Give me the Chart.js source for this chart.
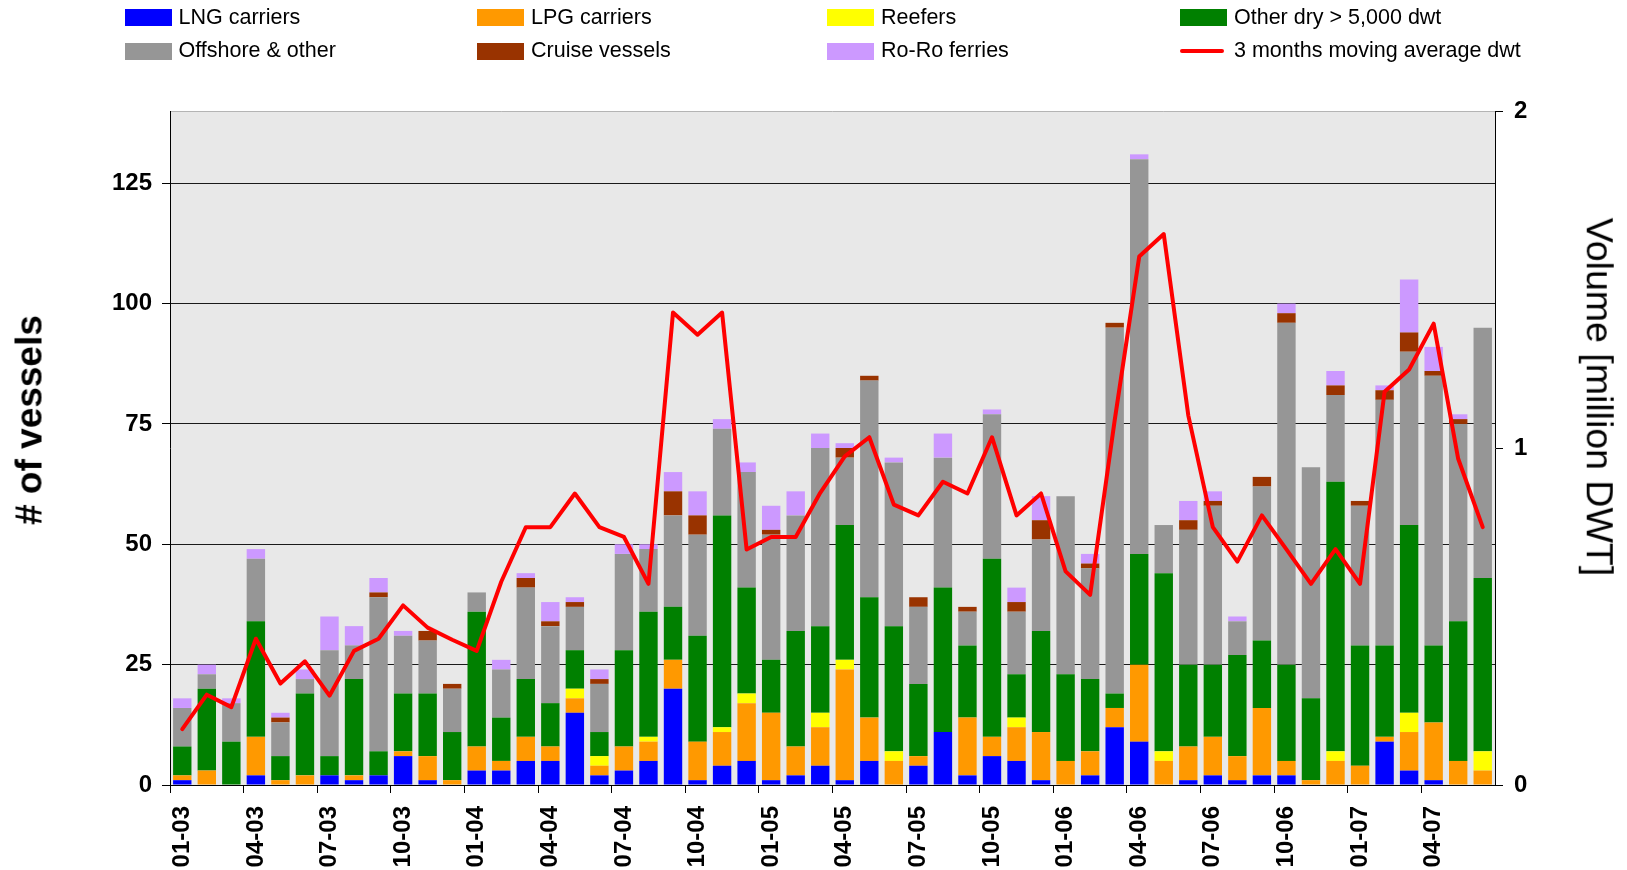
<!DOCTYPE html>
<html>
<head>
<meta charset="utf-8">
<script src="https://cdn.jsdelivr.net/npm/chart.js@4.4.1/dist/chart.umd.min.js"></script>
<style>
  html, body { margin: 0; padding: 0; background: #fff; }
  #wrap { position: relative; width: 1627px; height: 870px; font-family: "Liberation Sans", Arial, sans-serif; }
  #chart { position: absolute; left: 0; top: 0; }
  .leg-text { position: absolute; font-size: 21.5px; line-height: 1; color: #000; white-space: nowrap; transform: translateY(-50%); }
  .leg-box { position: absolute; }
  .axis-title { position: absolute; white-space: nowrap; color: #000; line-height: 1; }
</style>
</head>
<body>
<div id="wrap">
  <canvas id="chart" width="1627" height="870"></canvas>
  <div id="legend"></div>
  <div class="axis-title" style="left:29px; top:420px; font-weight:bold; font-size:37px; transform:translate(-50%,-50%) rotate(-90deg);"># of vessels</div>
  <div class="axis-title" style="left:1599px; top:397px; font-size:37.5px; transform:translate(-50%,-50%) rotate(90deg);">Volume [million DWT]</div>
</div>
<script>
// months shown on the category axis
const months = [
  "01-03","02-03","03-03","04-03","05-03","06-03","07-03","08-03","09-03","10-03","11-03","12-03",
  "01-04","02-04","03-04","04-04","05-04","06-04","07-04","08-04","09-04","10-04","11-04","12-04",
  "01-05","02-05","03-05","04-05","05-05","06-05","07-05","08-05","09-05","10-05","11-05","12-05",
  "01-06","02-06","03-06","04-06","05-06","06-06","07-06","08-06","09-06","10-06","11-06","12-06",
  "01-07","02-07","03-07","04-07","05-07","06-07"
]

// number of vessels per type and month
const lngCarriers = [1,0,0,2,0,0,2,1,2,6, 1,0,3,3,5,5,15,2,3,5, 20,1,4,5,1,2,4,1,5,0, 4,11,2,6,5,1,0,2,12,9, 0,1,2,1,2,2,0,0,0,9, 3,1,0,0]
const lpgCarriers = [1,3,0,8,1,2,0,1,0,1, 5,1,5,2,5,3,3,2,5,4, 6,8,7,12,14,6,8,23,9,5, 2,0,12,4,7,10,5,5,4,16, 5,7,8,5,14,3,1,5,4,1, 8,12,5,3]
const reefers = [0,0,0,0,0,0,0,0,0,0, 0,0,0,0,0,0,2,2,0,1, 0,0,1,2,0,0,3,2,0,2, 0,0,0,0,2,0,0,0,0,0, 2,0,0,0,0,0,0,2,0,0, 4,0,0,4]
const otherDry = [6,17,9,24,5,17,4,20,5,12, 13,10,28,9,12,9,8,5,20,26, 11,22,44,22,11,24,18,28,25,26, 15,30,15,37,9,21,18,15,3,23, 37,17,15,21,14,20,17,56,25,19, 39,16,29,36]
const offshoreOther = [8,3,8,13,7,3,22,7,32,12, 11,9,4,10,19,16,9,10,20,13, 19,21,18,24,26,24,37,14,45,34, 16,27,7,30,13,19,37,23,76,82, 10,28,33,7,32,71,48,18,29,51, 36,56,41,52]
const cruiseVessels = [0,0,0,0,1,0,0,0,1,0, 2,1,0,0,2,1,1,1,0,0, 5,4,0,0,1,0,0,2,1,0, 2,0,1,0,2,4,0,1,1,0, 0,2,1,0,2,2,0,2,1,2, 4,1,1,0]
const roroFerries = [2,2,1,2,1,2,7,4,3,1, 0,0,0,2,1,4,1,2,2,1, 4,5,2,2,5,5,3,1,0,1, 0,5,0,1,3,5,0,2,0,1, 0,4,2,1,0,2,0,3,0,1, 11,5,1,0]

// 3 months moving average, million dwt
const movingAvgDwt = [0.166,0.268,0.231,0.434,0.301,0.367,0.265,0.398,0.434,0.533, 0.467,0.431,0.398,0.603,0.765,0.765,0.865,0.765,0.736,0.597, 1.402,1.336,1.402,0.699,0.736,0.736,0.867,0.975,1.032,0.832, 0.800,0.900,0.865,1.032,0.800,0.865,0.634,0.564,1.082,1.568, 1.635,1.097,0.765,0.663,0.800,0.699,0.597,0.700,0.597,1.167, 1.233,1.369,0.968,0.765]

const vesselTicks = [0, 25, 50, 75, 100, 125]
const dwtTicks = [0, 1, 2]

const FONT = "'Liberation Sans', Arial, sans-serif"

const bars = [
  { label: "LNG carriers", data: lngCarriers, color: "#0000ff" },
  { label: "LPG carriers", data: lpgCarriers, color: "#ff9900" },
  { label: "Reefers", data: reefers, color: "#ffff00" },
  { label: "Other dry > 5,000 dwt", data: otherDry, color: "#008000" },
  { label: "Offshore & other", data: offshoreOther, color: "#969696" },
  { label: "Cruise vessels", data: cruiseVessels, color: "#993300" },
  { label: "Ro-Ro ferries", data: roroFerries, color: "#cc99ff" }
]
const lineLabel = "3 months moving average dwt"

// grey plot area like the spreadsheet original
const plotBg = {
  id: "plotBg",
  beforeDraw(chart) {
    const { ctx, chartArea: a } = chart
    ctx.save()
    ctx.fillStyle = "#e8e8e8"
    ctx.fillRect(a.left, a.top, a.right - a.left, a.bottom - a.top)
    ctx.strokeStyle = "#b4b4b4"
    ctx.lineWidth = 1
    ctx.beginPath()
    ctx.moveTo(a.left, a.top + 0.5)
    ctx.lineTo(a.right, a.top + 0.5)
    ctx.stroke()
    ctx.restore()
  }
}

const tickFont = { family: FONT, size: 24, weight: "bold" }

const datasets = [{
  type: "line",
  label: lineLabel,
  data: movingAvgDwt,
  yAxisID: "y1",
  borderColor: "#ff0000",
  backgroundColor: "#ff0000",
  borderWidth: 4,
  pointRadius: 0,
  tension: 0,
  borderJoinStyle: "round",
  borderCapStyle: "round",
  order: 0
}].concat(bars.map(b => ({
  type: "bar",
  label: b.label,
  data: b.data,
  backgroundColor: b.color,
  borderWidth: 0,
  stack: "vessels",
  yAxisID: "y",
  barPercentage: 0.75,
  categoryPercentage: 1.0,
  order: 1
})))

new Chart(document.getElementById("chart"), {
  data: { labels: months, datasets },
  plugins: [plotBg],
  options: {
    responsive: false,
    animation: false,
    devicePixelRatio: 1,
    events: [],
    layout: { padding: { top: 111, left: 0, right: 0, bottom: 0 } },
    plugins: { legend: { display: false }, tooltip: { enabled: false } },
    scales: {
      x: {
        stacked: true,
        offset: true,
        afterFit: s => { s.height = 85 },
        grid: {
          offset: true,
          drawOnChartArea: false,
          tickLength: 8,
          tickColor: c => (c.index % 3 === 0 ? "#000" : "rgba(0,0,0,0)")
        },
        border: { display: true, color: "#000", width: 1 },
        ticks: {
          autoSkip: false,
          minRotation: 90,
          maxRotation: 90,
          padding: 13,
          color: "#000",
          font: tickFont,
          callback: (v, i) => (i % 3 === 0 ? months[i] : "")
        }
      },
      y: {
        stacked: true,
        position: "left",
        min: 0,
        max: 140,
        afterFit: s => { s.width = 170 },
        afterBuildTicks: s => { s.ticks = vesselTicks.map(v => ({ value: v })) },
        grid: { color: "#1a1a1a", lineWidth: 1, tickLength: 8, tickColor: "#000" },
        border: { display: true, color: "#000", width: 1 },
        ticks: { padding: 10, color: "#000", font: tickFont }
      },
      y1: {
        position: "right",
        min: 0,
        max: 2,
        afterFit: s => { s.width = 132 },
        afterBuildTicks: s => { s.ticks = dwtTicks.map(v => ({ value: v })) },
        grid: { drawOnChartArea: false, tickLength: 8, tickColor: "#000" },
        border: { display: true, color: "#000", width: 1 },
        ticks: { padding: 11, color: "#000", font: tickFont }
      }
    }
  }
})

// legend laid out in a 4 x 2 grid like the original
const legend = document.getElementById("legend")
const colX = [124.5, 477, 827, 1180]
const rowY = [17.6, 51]
const legendItems = bars.map(b => ({ label: b.label, color: b.color, line: false }))
legendItems.push({ label: lineLabel, color: "#ff0000", line: true })
legendItems.forEach((it, i) => {
  const x = colX[i % 4], y = rowY[Math.floor(i / 4)]
  const box = document.createElement("div")
  box.className = "leg-box"
  box.style.background = it.color
  if (it.line) {
    box.style.left = x + "px"; box.style.top = (y - 2) + "px"
    box.style.width = "44px"; box.style.height = "4px"
    box.style.borderRadius = "2px"
  } else {
    box.style.left = x + "px"; box.style.top = (y - 8.5) + "px"
    box.style.width = "47px"; box.style.height = "17px"
  }
  legend.appendChild(box)
  const txt = document.createElement("div")
  txt.className = "leg-text"
  txt.style.left = (x + 54) + "px"
  txt.style.top = y + "px"
  txt.textContent = it.label
  legend.appendChild(txt)
})
</script>
</body>
</html>
